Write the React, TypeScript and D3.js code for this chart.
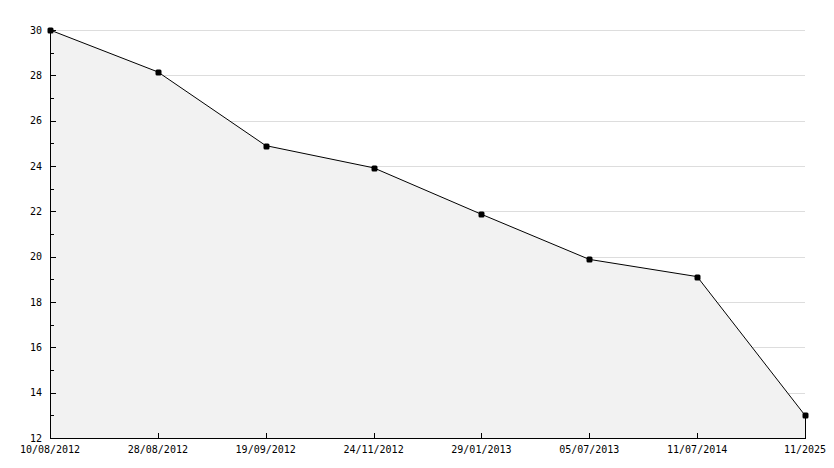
import React from "react";
import * as d3 from "d3";

const categories = ["10/08/2012", "28/08/2012", "19/09/2012", "24/11/2012", "29/01/2013", "05/07/2013", "11/07/2014", "11/2025"];
const values = [30, 28.15, 24.9, 23.92, 21.87, 19.88, 19.12, 13];
const yTicks = [12, 14, 16, 18, 20, 22, 24, 26, 28, 30];
const yMinorTicks = [13, 15, 17, 19, 21, 23, 25, 27, 29];

const W = 834, H = 468;
const L = 50, R = 805, T = 30, B = 438;

export default function App() {
  const x = d3.scalePoint<string>().domain(categories).range([L, R]);
  const y = d3.scaleLinear().domain([12, 30]).range([B, T]);
  const pts: [number, number][] = categories.map((c, i) => [x(c)!, y(values[i])]);
  const line = d3.line<[number, number]>().x(d => d[0]).y(d => d[1]);
  const area = d3.area<[number, number]>().x(d => d[0]).y0(B).y1(d => d[1]);
  const font = "DejaVu Sans Mono, monospace";
  const last = pts[pts.length - 1];
  return (
    <svg width={W} height={H} style={{ position: "absolute", left: 0, top: 0, background: "#fff" }} shapeRendering="crispEdges">
      {yTicks.map(t => (
        <line key={"g" + t} x1={L} x2={R} y1={Math.round(y(t)) + 0.5} y2={Math.round(y(t)) + 0.5} stroke="#dddddd" strokeWidth={1} />
      ))}
      <path d={area(pts)!} fill="#f2f2f2" stroke="none" />
      <path d={line(pts)!} fill="none" stroke="#000" strokeWidth={1} shapeRendering="auto" />
      <line x1={last[0] + 0.5} x2={last[0] + 0.5} y1={last[1]} y2={B} stroke="#000" strokeWidth={1} />
      <line x1={L + 0.5} x2={L + 0.5} y1={T} y2={B + 1} stroke="#000" strokeWidth={1} />
      <line x1={L} x2={R + 1} y1={B + 0.5} y2={B + 0.5} stroke="#000" strokeWidth={1} />
      {yTicks.map(t => (
        <g key={"yt" + t}>
          <line x1={L} x2={L + 6} y1={Math.round(y(t)) + 0.5} y2={Math.round(y(t)) + 0.5} stroke="#000" />
          <text x={42} y={y(t)} dy="0.35em" textAnchor="end" fontFamily={font} fontSize={10} fill="#000">{t}</text>
        </g>
      ))}
      {yMinorTicks.map(t => (
        <line key={"ym" + t} x1={L} x2={L + 4} y1={Math.round(y(t)) + 0.5} y2={Math.round(y(t)) + 0.5} stroke="#000" />
      ))}
      {categories.map(c => (
        <g key={"xt" + c}>
          <line x1={Math.round(x(c)!) + 0.5} x2={Math.round(x(c)!) + 0.5} y1={B - 5} y2={B} stroke="#000" />
          <text x={x(c)!} y={453} textAnchor="middle" fontFamily={font} fontSize={10} fill="#000">{c}</text>
        </g>
      ))}
      {pts.map((p, i) => (
        <rect key={"m" + i} x={Math.round(p[0]) - 2.5} y={Math.round(p[1]) - 2.5} width={6} height={6} fill="#000" shapeRendering="auto" rx={1.5} />
      ))}
    </svg>
  );
}
